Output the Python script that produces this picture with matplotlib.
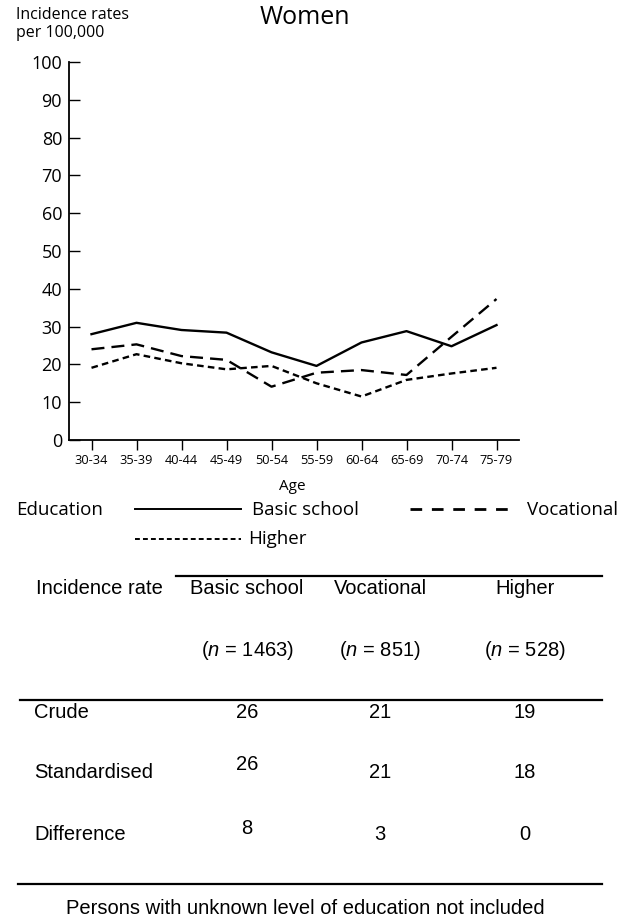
import matplotlib
matplotlib.use('Agg')
import matplotlib.pyplot as plt
from matplotlib.lines import Line2D

plt.rcParams['mathtext.fontset'] = 'custom'
plt.rcParams['mathtext.rm'] = 'Liberation Sans'
plt.rcParams['mathtext.it'] = 'Liberation Sans:italic'

# 数据
ages = ['30-34', '35-39', '40-44', '45-49', '50-54', '55-59', '60-64', '65-69', '70-74', '75-79']
basic = [28.0, 31.0, 29.1, 28.4, 23.2, 19.6, 25.8, 28.8, 24.8, 30.4]
vocational = [24.0, 25.3, 22.2, 21.2, 14.1, 17.8, 18.5, 17.2, 27.3, 37.3]
higher = [19.1, 22.7, 20.3, 18.7, 19.6, 15.0, 11.5, 15.9, 17.6, 19.1]

groups = ['Basic school', 'Vocational', 'Higher']
n_counts = [1463, 851, 528]
crude = [26, 21, 19]
standardised = [26, 21, 18]
difference = [8, 3, 0]

W, H = 630, 918
fig = plt.figure(figsize=(W / 100, H / 100), dpi=100)

def fx(px):
    return px / W

def fy(py):
    return 1 - py / H

chart_font = 'Open Sans'
table_font = 'Liberation Sans'

# 折线图
ax = fig.add_axes([fx(69), fy(440), fx(519) - fx(69), fy(62) - fy(440)])
xs = list(range(len(ages)))
lw = 1.7
ax.plot(xs, basic, color='black', lw=lw, linestyle='-')
ax.plot(xs, vocational, color='black', lw=lw, linestyle=(0, (5.5, 3)))
ax.plot(xs, higher, color='black', lw=lw, linestyle=(0, (2.8, 1.8)))

ax.set_xlim(-0.5, 9.5)
ax.set_ylim(0, 100)
ax.set_yticks(range(0, 101, 10))
ax.set_xticks(xs)
ax.set_xticklabels(ages, fontsize=9.2, family=chart_font)
for lab in ax.get_yticklabels():
    lab.set_family(chart_font)
    lab.set_fontsize(13)
ax.tick_params(axis='y', direction='in', length=8, width=1, pad=5)
ax.tick_params(axis='x', direction='out', length=7, width=1, pad=3)
ax.spines['top'].set_visible(False)
ax.spines['right'].set_visible(False)
ax.spines['left'].set_linewidth(1.3)
ax.spines['bottom'].set_linewidth(1.3)

fig.text(fx(16), fy(24), 'Incidence rates\nper 100,000', fontsize=11.5, family=chart_font,
         va='center', ha='left', linespacing=1.15)
fig.text(fx(305), fy(18), 'Women', fontsize=18, family=chart_font, ha='center', va='center')
fig.text(fx(292), fy(486), 'Age', fontsize=11, family=chart_font, ha='center', va='center')

# 图例
lfs = 13.5
fig.text(fx(16), fy(510), 'Education', fontsize=lfs, family=chart_font, va='center')
fig.add_artist(Line2D([fx(135), fx(241)], [fy(509), fy(509)], color='black', lw=1.4))
fig.text(fx(252), fy(510), 'Basic school', fontsize=lfs, family=chart_font, va='center')
fig.add_artist(Line2D([fx(410), fx(509)], [fy(509), fy(509)], color='black', lw=2,
                      linestyle=(0, (4.2, 3.5))))
fig.text(fx(527), fy(510), 'Vocational', fontsize=lfs, family=chart_font, va='center')
fig.add_artist(Line2D([fx(135), fx(241)], [fy(539), fy(539)], color='black', lw=1.4,
                      linestyle=(0, (2.5, 1.6))))
fig.text(fx(248), fy(539), 'Higher', fontsize=lfs, family=chart_font, va='center')

# 表格
col_x = [247, 380, 525]
fs = 14.5
fig.add_artist(Line2D([fx(176), fx(602)], [fy(576), fy(576)], color='black', lw=1.6))
fig.text(fx(36), fy(589), 'Incidence rate', fontsize=fs, family=table_font, va='center')
for x, g, n in zip(col_x, groups, n_counts):
    fig.text(fx(x), fy(589), g, fontsize=fs, family=table_font, ha='center', va='center')
    fig.text(fx(x), fy(651), '($\\it{n}$ = %d)' % n, fontsize=fs, family=table_font,
             ha='center', va='center')
fig.add_artist(Line2D([fx(20), fx(602)], [fy(700), fy(700)], color='black', lw=1.6))

rows = [('Crude', crude, 713, [0, 0, 0]),
        ('Standardised', standardised, 773, [-8, 0, 0]),
        ('Difference', difference, 834, [-6, 0, 0])]
for name, vals, y, offs in rows:
    fig.text(fx(34), fy(y), name, fontsize=fs, family=table_font, va='center')
    for x, v, o in zip(col_x, vals, offs):
        fig.text(fx(x), fy(y + o), str(v), fontsize=fs, family=table_font,
                 ha='center', va='center')
fig.add_artist(Line2D([fx(18), fx(602)], [fy(884), fy(884)], color='black', lw=1.6))
fig.text(fx(305), fy(908), 'Persons with unknown level of education not included',
         fontsize=fs, family=table_font, ha='center', va='center')

plt.savefig('out.png', dpi=100)
